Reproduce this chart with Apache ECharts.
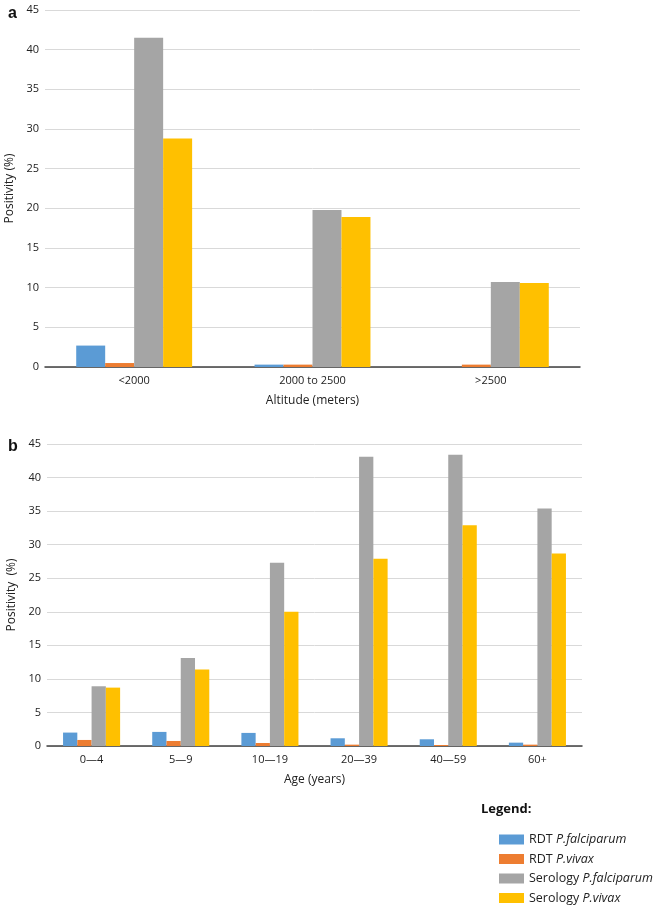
<!DOCTYPE html>
<html>
<head>
<meta charset="utf-8">
<script src="https://cdn.jsdelivr.net/npm/echarts@6/dist/echarts.min.js"></script>
<style>html,body{margin:0;padding:0;background:#fff;}#c{width:662px;height:908px;}</style>
</head>
<body>
<div id="c"></div>
<script>
const altitudeCats = ['<2000', '2000 to 2500', '>2500'];
const altRdtPf = [2.7, 0.3, 0];
const altRdtPv = [0.5, 0.3, 0.3];
const altSeroPf = [41.5, 19.8, 10.7];
const altSeroPv = [28.8, 18.9, 10.6];

const ageCats = ['0\u20144', '5\u20149', '10\u201419', '20\u201439', '40\u201459', '60+'];
const ageRdtPf = [2.0, 2.1, 1.95, 1.15, 1.0, 0.5];
const ageRdtPv = [0.9, 0.75, 0.45, 0.2, 0.15, 0.2];
const ageSeroPf = [8.9, 13.1, 27.3, 43.1, 43.4, 35.4];
const ageSeroPv = [8.7, 11.4, 20.0, 27.9, 32.9, 28.7];

const yTicks = [0, 5, 10, 15, 20, 25, 30, 35, 40, 45];
const seriesNames = ['RDT P.falciparum', 'RDT P.vivax', 'Serology P.falciparum', 'Serology P.vivax'];
const colors = ['#5B9BD5', '#ED7D31', '#A5A5A5', '#FFC000'];

const font = 'Open Sans';
const chart = echarts.init(document.getElementById('c'), null, {renderer: 'canvas'});

function xAxis(idx, cats, name) {
  return {
    type: 'category', gridIndex: idx, data: cats,
    name: name, nameLocation: 'middle', nameGap: 28,
    nameTextStyle: {fontFamily: font, fontSize: 12, color: '#222'},
    axisLine: {lineStyle: {color: '#404040', width: 1.5}},
    axisTick: {show: false},
    axisLabel: {fontFamily: font, fontSize: 11, color: '#222', margin: 8}
  };
}
function yAxis(idx, name) {
  return {
    type: 'value', gridIndex: idx, min: yTicks[0], max: yTicks[yTicks.length - 1], interval: 5,
    name: name, nameLocation: 'middle', nameGap: 26,
    nameTextStyle: {fontFamily: font, fontSize: 12, color: '#222'},
    axisLine: {show: false}, axisTick: {show: false},
    axisLabel: {fontFamily: font, fontSize: 11, color: '#222', margin: 6},
    splitLine: {lineStyle: {color: '#d9d9d9', width: 1}}
  };
}
function bars(idx, arrs, gap) {
  return arrs.map((d, i) => ({
    name: seriesNames[i], type: 'bar', xAxisIndex: idx, yAxisIndex: idx,
    data: d, barGap: '0%', barCategoryGap: gap,
    itemStyle: {color: colors[i]}, silent: true
  }));
}

chart.setOption({
  animation: false,
  textStyle: {fontFamily: font},
  title: [
    {text: 'a', left: 3, top: 1, textStyle: {fontFamily: 'Liberation Sans', fontSize: 16, fontWeight: 'bold', color: '#111'}},
    {text: 'b', left: 3, top: 434, textStyle: {fontFamily: 'Liberation Sans', fontSize: 16, fontWeight: 'bold', color: '#111'}},
    {text: 'Legend:', left: 476, top: 798, textStyle: {fontFamily: font, fontSize: 13, fontWeight: 'bold', color: '#111'}}
  ],
  legend: {
    orient: 'vertical', left: 499, top: 832, itemWidth: 25, itemHeight: 10, itemGap: 4.5,
    icon: 'rect', selectedMode: false, padding: 0,
    data: seriesNames,
    formatter: function (n) {
      const sp = n.indexOf(' P.');
      return '{n|' + n.slice(0, sp + 1) + '}{i|' + n.slice(sp + 1) + '}';
    },
    textStyle: {
      fontFamily: font, fontSize: 12.5, color: '#222', lineHeight: 15,
      rich: {
        n: {fontFamily: font, fontSize: 12.5, color: '#222', lineHeight: 15},
        i: {fontFamily: font, fontSize: 12.5, fontStyle: 'italic', color: '#222', lineHeight: 15}
      }
    }
  },
  grid: [
    {left: 45, right: 82, top: 10, height: 357, outerBoundsMode: 'none', containLabel: false},
    {left: 47, right: 80, top: 444, height: 302, outerBoundsMode: 'none', containLabel: false}
  ],
  xAxis: [xAxis(0, altitudeCats, 'Altitude (meters)'), xAxis(1, ageCats, 'Age (years)')],
  yAxis: [yAxis(0, 'Positivity (%)'), yAxis(1, 'Positivity  (%)')],
  series: [].concat(
    bars(0, [altRdtPf, altRdtPv, altSeroPf, altSeroPv], '35%'),
    bars(1, [ageRdtPf, ageRdtPv, ageSeroPf, ageSeroPv], '36%')
  )
});
</script>
</body>
</html>
